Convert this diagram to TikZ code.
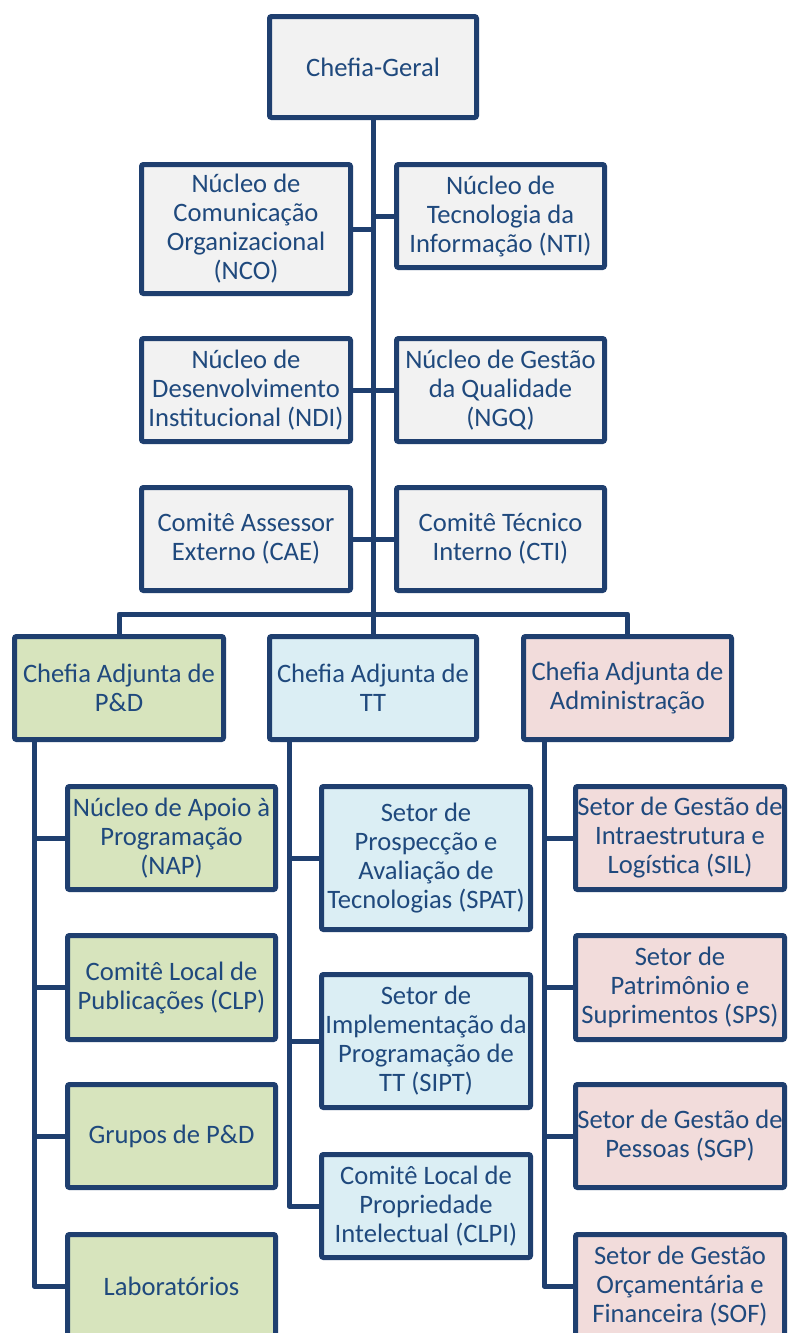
\documentclass[tikz,border=0pt]{standalone}
\usepackage{fontspec}
\setmainfont{Carlito}
\definecolor{lineblue}{HTML}{1F3F6F}
\definecolor{textblue}{HTML}{1F497D}
\definecolor{fgray}{HTML}{F2F2F2}
\definecolor{fgreen}{HTML}{D7E4BD}
\definecolor{fblue}{HTML}{DBEEF4}
\definecolor{fpink}{HTML}{F2DCDB}
\tikzset{
  orgbox/.style={draw=lineblue, line width=5pt, rounded corners=2pt, fill=#1,
    text=textblue, align=center, inner sep=0pt, minimum width=209pt,
    font=\fontsize{26.6}{29}\selectfont},
  link/.style={draw=lineblue, line width=5pt, line join=round}
}
\begin{document}
\begin{tikzpicture}[x=1pt,y=-1pt]
\useasboundingbox[fill=white] (0,0) rectangle (788,1333);
\clip (0,0) rectangle (788,1333);
% top level
\node[orgbox=fgray, minimum width=207pt, minimum height=101pt] (cg) at (373,67) {Chefia-Geral};
\node[orgbox=fgray, minimum height=129pt] (nco) at (246,229) {Núcleo de\\Comunicação\\Organizacional\\(NCO)};
\node[orgbox=fgray, minimum width=208pt, minimum height=103pt] (nti) at (500.5,216) {Núcleo de\\Tecnologia da\\Informação (NTI)};
\node[orgbox=fgray, minimum height=103pt] (ndi) at (246,390) {Núcleo de\\Desenvolvimento\\Institucional (NDI)};
\node[orgbox=fgray, minimum width=208pt, minimum height=103pt] (ngq) at (500.5,390) {Núcleo de Gestão\\da Qualidade\\(NGQ)};
\node[orgbox=fgray, minimum height=103pt] (cae) at (246,539) {Comitê Assessor\\Externo (CAE)};
\node[orgbox=fgray, minimum width=208pt, minimum height=103pt] (cti) at (500.5,539) {Comitê Técnico\\Interno (CTI)};
% adjunct heads
\node[orgbox=fgreen, minimum height=103pt] (pd) at (119,688) {Chefia Adjunta de\\P\&D};
\node[orgbox=fblue, minimum width=207pt, minimum height=103pt] (tt) at (373,688) {Chefia Adjunta de\\TT};
\node[orgbox=fpink, minimum width=208pt, minimum height=103pt] (adm) at (627.5,688) {Chefia Adjunta de\\Administração};
% P&D column
\node[orgbox=fgreen, minimum width=208pt, minimum height=103pt] (nap) at (171.5,838) {Núcleo de Apoio à\\Programação\\(NAP)};
\node[orgbox=fgreen, minimum width=208pt, minimum height=104pt] (clp) at (171.5,987.5) {Comitê Local de\\Publicações (CLP)};
\node[orgbox=fgreen, minimum width=208pt, minimum height=103pt] (grp) at (171.5,1136) {Grupos de P\&D};
\node[orgbox=fgreen, minimum width=208pt, minimum height=103pt] (lab) at (171.5,1286) {Laboratórios};
% TT column
\node[orgbox=fblue, minimum height=143pt] (spat) at (426,858) {Setor de\\Prospecção e\\Avaliação de\\Tecnologias (SPAT)};
\node[orgbox=fblue, minimum height=133pt] (sipt) at (426,1041) {Setor de\\Implementação da\\Programação de\\TT (SIPT)};
\node[orgbox=fblue, minimum height=103pt] (clpi) at (426,1206) {Comitê Local de\\Propriedade\\Intelectual (CLPI)};
% Administration column
\node[orgbox=fpink, minimum height=103pt] (sil) at (680,838) {Setor de Gestão de\\Intraestrutura e\\Logística (SIL)};
\node[orgbox=fpink, minimum height=104pt] (sps) at (680,987.5) {Setor de\\Patrimônio e\\Suprimentos (SPS)};
\node[orgbox=fpink, minimum height=103pt] (sgp) at (680,1136) {Setor de Gestão de\\Pessoas (SGP)};
\node[orgbox=fpink, minimum height=103pt] (sof) at (680,1286) {Setor de Gestão\\Orçamentária e\\Financeira (SOF)};
% connectors
\coordinate (bus) at (373,614);
\coordinate (lx) at (34,0);
\coordinate (mx) at (289,0);
\coordinate (rx) at (544,0);
\draw[link] (cg.south) -- (tt.north);
\draw[link] (pd.north) |- (bus) -| (adm.north);
\foreach \n in {nco,ndi,cae}{\draw[link] (\n.east) -- (\n.east -| cg.south);}
\foreach \n in {nti,ngq,cti}{\draw[link] (\n.west) -- (\n.west -| cg.south);}
\draw[link] (pd.south -| lx) |- (lab.west);
\foreach \n in {nap,clp,grp}{\draw[link] (\n.west) -- (\n.west -| lx);}
\draw[link] (tt.south -| mx) |- (clpi.west);
\foreach \n in {spat,sipt}{\draw[link] (\n.west) -- (\n.west -| mx);}
\draw[link] (adm.south -| rx) |- (sof.west);
\foreach \n in {sil,sps,sgp}{\draw[link] (\n.west) -- (\n.west -| rx);}
\end{tikzpicture}
\end{document}
